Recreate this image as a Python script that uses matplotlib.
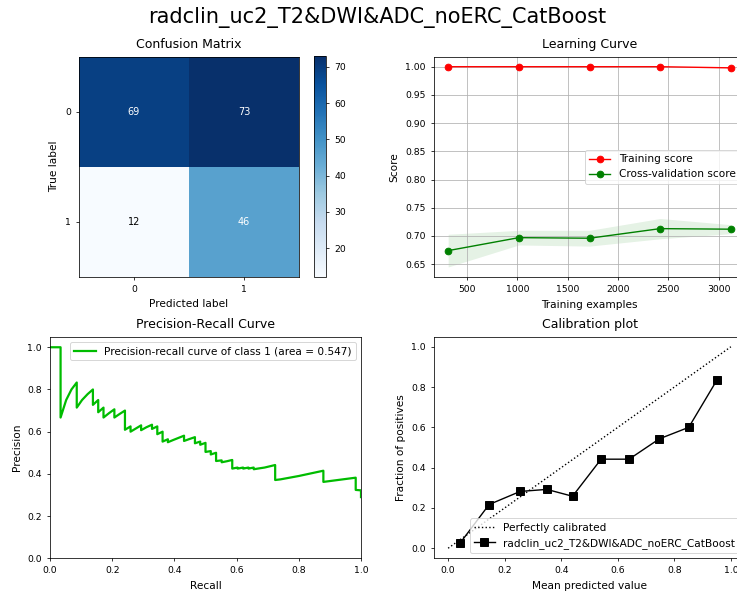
import matplotlib
matplotlib.use("Agg")
import matplotlib.pyplot as plt
import numpy as np

model_name = "radclin_uc2_T2&DWI&ADC_noERC_CatBoost"

# confusion matrix (rows = true label, cols = predicted label)
class_labels = ["0", "1"]
conf_mat = [[69, 73],
            [12, 46]]

# learning curve
train_sizes = [312, 1014, 1716, 2418, 3120]
train_mean = [1.0, 1.0, 1.0, 1.0, 0.998]
train_std = [0.0, 0.0, 0.0, 0.0, 0.001]
cv_mean = [0.674, 0.697, 0.696, 0.713, 0.712]
cv_std = [0.029, 0.013, 0.014, 0.018, 0.008]

# precision-recall curve vertices, class 1
pr_recall = [0.0, 0.034, 0.034, 0.052, 0.069, 0.086, 0.086, 0.103, 0.121, 0.138,
             0.138, 0.155, 0.155, 0.172, 0.172, 0.190, 0.207, 0.207, 0.224, 0.241,
             0.241, 0.259, 0.259, 0.276, 0.293, 0.293, 0.310, 0.328, 0.328, 0.345,
             0.345, 0.362, 0.362, 0.379, 0.379, 0.397, 0.414, 0.431, 0.431, 0.448,
             0.466, 0.466, 0.483, 0.483, 0.500, 0.500, 0.517, 0.517, 0.534, 0.534,
             0.552, 0.552, 0.569, 0.586, 0.586, 0.603, 0.603, 0.621, 0.621, 0.638,
             0.638, 0.655, 0.655, 0.672, 0.690, 0.707, 0.724, 0.724, 0.741, 0.800,
             0.879, 0.879, 0.931, 0.983, 0.983, 1.0, 1.0]
pr_precision = [1.0, 1.0, 0.667, 0.750, 0.800, 0.833, 0.714, 0.750, 0.778, 0.800,
                0.727, 0.750, 0.692, 0.714, 0.667, 0.688, 0.706, 0.667, 0.684, 0.700,
                0.609, 0.625, 0.600, 0.615, 0.630, 0.607, 0.621, 0.633, 0.613, 0.625,
                0.588, 0.600, 0.553, 0.564, 0.550, 0.561, 0.571, 0.581, 0.556, 0.565,
                0.574, 0.545, 0.553, 0.538, 0.547, 0.504, 0.508, 0.492, 0.500, 0.461,
                0.464, 0.455, 0.460, 0.466, 0.425, 0.430, 0.425, 0.430, 0.425, 0.430,
                0.425, 0.430, 0.422, 0.426, 0.430, 0.436, 0.442, 0.371, 0.374, 0.390,
                0.415, 0.362, 0.372, 0.382, 0.324, 0.322, 0.290]
pr_area = 0.547

# calibration curve
mean_predicted = [0.042, 0.145, 0.255, 0.349, 0.440, 0.541, 0.640, 0.747, 0.851, 0.950]
frac_positives = [0.025, 0.217, 0.282, 0.292, 0.258, 0.442, 0.442, 0.543, 0.600, 0.833]

W, H = 737, 592
TICK, LABEL, TITLE, LEG = 6.7, 7.6, 9.0, 7.6

# everything is drawn at roughly two thirds of the usual line and marker sizes
plt.rcParams.update({
    "lines.linewidth": 1.0,
    "lines.markersize": 4.8,
    "lines.markeredgewidth": 0.7,
    "axes.linewidth": 0.55,
    "patch.linewidth": 0.7,
    "grid.linewidth": 0.55,
    "xtick.major.size": 2.4,
    "ytick.major.size": 2.4,
    "xtick.major.width": 0.55,
    "ytick.major.width": 0.55,
})


def box(left, top, right, bottom):
    return [left / W, 1 - bottom / H, (right - left) / W, (bottom - top) / H]


fig = plt.figure(figsize=(W / 100, H / 100), dpi=100)
fig.suptitle(model_name, x=377 / W, y=1 - 18 / H, va="center", fontsize=15)

# --- confusion matrix
ax_cm = fig.add_axes(box(79, 56, 299, 277))
cm = np.array(conf_mat)
img = ax_cm.imshow(cm, interpolation="nearest", cmap=plt.cm.Blues)
cax = fig.add_axes(box(314, 56, 326, 277))
cb = fig.colorbar(img, cax=cax)
cb.ax.tick_params(labelsize=TICK)
cb.outline.set_linewidth(0.55)
ax_cm.set_title("Confusion Matrix", fontsize=TITLE)
ax_cm.set_xticks(range(len(class_labels)), class_labels)
ax_cm.set_yticks(range(len(class_labels)), class_labels)
ax_cm.tick_params(labelsize=TICK)
thresh = cm.max() / 2.0
for i in range(cm.shape[0]):
    for j in range(cm.shape[1]):
        ax_cm.text(j, i, str(cm[i, j]), ha="center", va="center", fontsize=7,
                   color="white" if cm[i, j] > thresh else "black")
ax_cm.set_ylabel("True label", fontsize=LABEL)
ax_cm.set_xlabel("Predicted label", fontsize=LABEL)

# --- learning curve
ax_lc = fig.add_axes(box(434, 56.7, 745, 277))
sizes = np.array(train_sizes)
tm, ts = np.array(train_mean), np.array(train_std)
cvm, cvs = np.array(cv_mean), np.array(cv_std)
ax_lc.grid()
ax_lc.fill_between(sizes, tm - ts, tm + ts, alpha=0.1, color="r", lw=0)
ax_lc.fill_between(sizes, cvm - cvs, cvm + cvs, alpha=0.1, color="g", lw=0)
ax_lc.plot(sizes, tm, "o-", color="r", label="Training score")
ax_lc.plot(sizes, cvm, "o-", color="g", label="Cross-validation score")
ax_lc.set_title("Learning Curve", fontsize=TITLE)
ax_lc.set_xlabel("Training examples", fontsize=LABEL)
ax_lc.set_ylabel("Score", fontsize=LABEL)
ax_lc.tick_params(labelsize=TICK)
ax_lc.legend(loc="center right", fontsize=LEG)

# --- precision-recall curve
ax_pr = fig.add_axes(box(50, 336.7, 361, 558.3))
ax_pr.plot(pr_recall, pr_precision, lw=1.6, color=plt.cm.nipy_spectral(0.5),
           label="Precision-recall curve of class 1 (area = {:0.3f})".format(pr_area))
ax_pr.set_xlim([0.0, 1.0])
ax_pr.set_ylim([0.0, 1.05])
ax_pr.set_title("Precision-Recall Curve", fontsize=TITLE)
ax_pr.set_xlabel("Recall", fontsize=LABEL)
ax_pr.set_ylabel("Precision", fontsize=LABEL)
ax_pr.tick_params(labelsize=TICK)
ax_pr.legend(loc="upper right", fontsize=LEG)

# --- calibration plot
ax_cal = fig.add_axes(box(434, 336.7, 745, 558.3))
ax_cal.plot([0, 1], [0, 1], "k:", label="Perfectly calibrated")
ax_cal.plot(mean_predicted, frac_positives, "s-", color="black", ms=5.5,
            label=model_name)
ax_cal.set_xlim([-0.05, 1.05])
ax_cal.set_ylim([-0.05, 1.05])
ax_cal.set_title("Calibration plot", fontsize=TITLE)
ax_cal.set_xlabel("Mean predicted value", fontsize=LABEL)
ax_cal.set_ylabel("Fraction of positives", fontsize=LABEL)
ax_cal.tick_params(labelsize=TICK)
ax_cal.legend(loc="lower right", fontsize=LEG)

fig.savefig("out.png", dpi=100)
